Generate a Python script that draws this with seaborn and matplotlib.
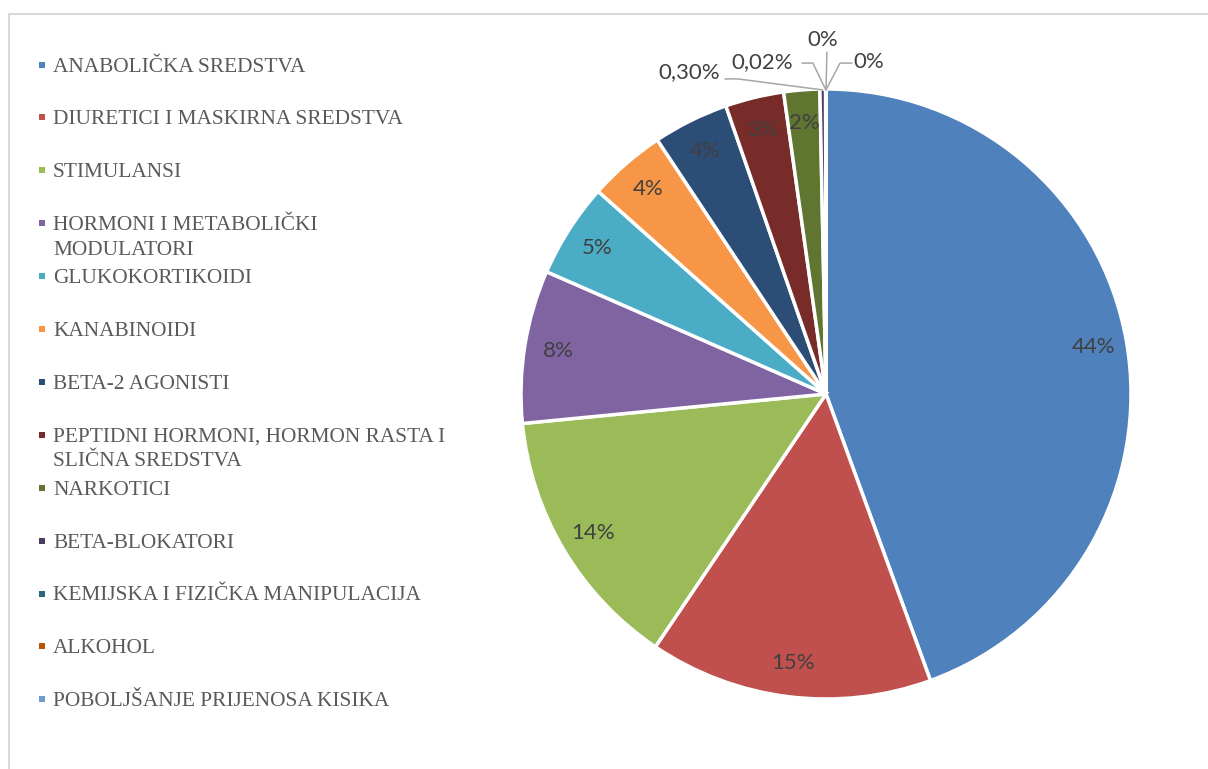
import numpy as np
import matplotlib
matplotlib.use("Agg")
import matplotlib.pyplot as plt
import seaborn as sns

# Data
categories = [
    "ANABOLIČKA SREDSTVA",
    "DIURETICI I MASKIRNA SREDSTVA",
    "STIMULANSI",
    "HORMONI I METABOLIČKI\nMODULATORI",
    "GLUKOKORTIKOIDI",
    "KANABINOIDI",
    "BETA-2 AGONISTI",
    "PEPTIDNI HORMONI, HORMON RASTA I\nSLIČNA SREDSTVA",
    "NARKOTICI",
    "BETA-BLOKATORI",
    "KEMIJSKA I FIZIČKA MANIPULACIJA",
    "ALKOHOL",
    "POBOLJŠANJE PRIJENOSA KISIKA",
]
shares = [44.4, 15.0, 14.0, 8.1, 5.0, 4.1, 4.0, 3.1, 1.9, 0.30, 0.02, 0.0, 0.0]
pct_labels = ["44%", "15%", "14%", "8%", "5%", "4%", "4%", "3%", "2%",
              "0,30%", "0,02%", "0%", "0%"]
colors = ["#4F81BD", "#C0504D", "#9BBB59", "#8064A2", "#4BACC6", "#F79646",
          "#2C4D75", "#772C2A", "#5F7530", "#4D3B62", "#276A7C", "#B65708",
          "#729ACA"]

sns.set_theme(style="white")
plt.rcParams['font.family'] = ['Lato', 'DejaVu Sans']

W, H, DPI = 1208, 769, 100
fig = plt.figure(figsize=(W / DPI, H / DPI), dpi=DPI)
fig.patch.set_facecolor('white')

# Background overlay in pixel coordinates (frame + legend)
bg = fig.add_axes([0, 0, 1, 1])
bg.set_xlim(0, W)
bg.set_ylim(H, 0)
bg.axis('off')
bg.plot([9, 9, W + 5], [H + 5, 14, 14], color='#D9D9D9', lw=1.5)

leg_y0, leg_dy, line_dy = 64.5, 52.9, 24.5
for i, (name, c) in enumerate(zip(categories, colors)):
    y = leg_y0 + i * leg_dy
    bg.scatter([42], [y], marker='s', s=20, color=c, linewidths=0)
    for j, line in enumerate(name.split('\n')):
        bg.text(53, y + 7 + j * line_dy, line, family=['Liberation Serif'],
                fontsize=15.4, color='#595959', va='baseline', ha='left')

# Pie
R = 305
cx, cy = 826, 394
lim = 1.3
size = 2 * lim * R
ax = fig.add_axes([(cx - lim * R) / W, (H - cy - lim * R) / H, size / W, size / H])
wedges, _ = ax.pie(shares, colors=colors, startangle=90, counterclock=False,
                   wedgeprops=dict(edgecolor='white', linewidth=2.5))
ax.set_xlim(-lim, lim)
ax.set_ylim(-lim, lim)
ax.set_aspect('equal', adjustable='datalim')

label_color = '#404040'
for w, lab in zip(wedges[:9], pct_labels[:9]):
    a = np.deg2rad((w.theta1 + w.theta2) / 2)
    ax.text(0.89 * np.cos(a), 0.89 * np.sin(a), lab, ha='center', va='center',
            fontsize=16, color=label_color)

# Small slices with leader lines: (text x, text y, ha, line start x, elbow x, elbow y)
small_layout = [
    (-0.348, 1.054, 'right', -0.331, -0.289, 1.033),
    (-0.108, 1.087, 'right', -0.079, -0.043, 1.085),
    (-0.010, 1.161, 'center', 0.003, 0.003, 1.121),
    (0.089, 1.087, 'left', 0.085, 0.046, 1.085),
]
for w, lab, (tx, ty, ha, lx, ex, ey) in zip(wedges[9:], pct_labels[9:], small_layout):
    a = np.deg2rad((w.theta1 + w.theta2) / 2)
    tip = (0.997 * np.cos(a), 0.997 * np.sin(a))
    if ha == 'center':
        ax.plot([lx, tip[0]], [ey, tip[1]], color='#A6A6A6', lw=1.1)
    else:
        ax.plot([lx, ex, tip[0]], [ey, ey, tip[1]], color='#A6A6A6', lw=1.1)
    ax.text(tx, ty, lab, ha=ha, va='center', fontsize=16, color=label_color)

fig.savefig('out.png', dpi=DPI, facecolor='white')
